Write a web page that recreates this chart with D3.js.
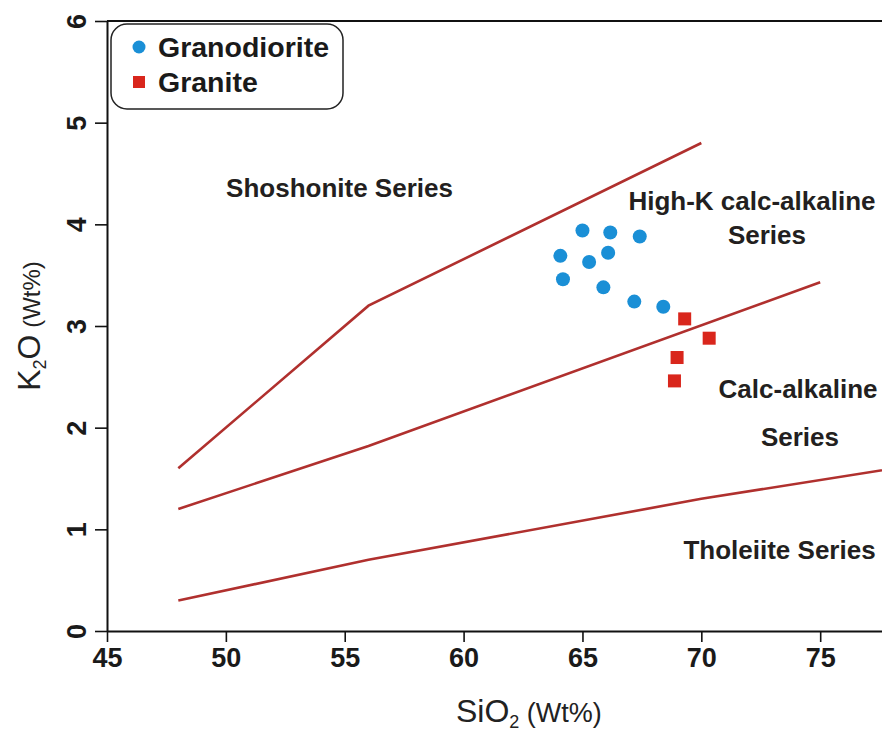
<!DOCTYPE html>
<html><head><meta charset="utf-8">
<script src="https://cdn.jsdelivr.net/npm/d3@7"></script>
<style>body{margin:0;background:#fff}svg{display:block}</style>
</head><body>
<svg id="c" width="882" height="733"></svg>
<script>
// Data
const granodiorite = [
  [65.0,3.94],[66.17,3.92],[67.41,3.88],[64.07,3.69],[66.08,3.72],
  [65.28,3.63],[64.18,3.46],[65.88,3.38],[67.18,3.24],[68.40,3.19]
];
const granite = [[69.30,3.07],[70.33,2.88],[68.98,2.69],[68.87,2.46]];
const lineShoshonite = [[48,1.6],[56,3.2],[70,4.8]];
const lineHighK = [[48,1.2],[56,1.82],[75,3.43]];
const lineTholeiite = [[48,0.3],[56,0.7],[70,1.3],[80,1.67]];
const xTicks = [45,50,55,60,65,70,75];
const yTicks = [0,1,2,3,4,5,6];
const seriesLabels = [
  {text:"Shoshonite Series", x:54.78, y:4.27},
  {text:"High-K calc-alkaline", x:72.13, y:4.14},
  {text:"Series", x:72.76, y:3.81},
  {text:"Calc-alkaline", x:74.07, y:2.29},
  {text:"Series", x:74.15, y:1.82},
  {text:"Tholeiite Series", x:73.29, y:0.71}
];
const legendItems = [{name:"Granodiorite", shape:"circle"},{name:"Granite", shape:"square"}];

const svg = d3.select("#c");
const L=107, R=882, T=21, B=631;
const x = d3.scaleLinear().domain([45,77.6]).range([L,R]);
const y = d3.scaleLinear().domain([0,6]).range([B,T]);

const colLine="#b0302e", colBlue="#1a8fd6", colRed="#d9261c";

svg.append("defs").append("clipPath").attr("id","clip")
  .append("rect").attr("x",L).attr("y",T).attr("width",R-L).attr("height",B-T);

svg.append("line").attr("x1",L).attr("x2",R).attr("y1",T).attr("y2",T).attr("stroke","#111").attr("stroke-width",2);

const xAxis = svg.append("g").attr("transform",`translate(0,${B})`)
  .call(d3.axisBottom(x).tickValues(xTicks).tickSize(11).tickSizeOuter(0).tickPadding(6));
const yAxis = svg.append("g").attr("transform",`translate(${L},0)`)
  .call(d3.axisLeft(y).tickValues(yTicks).tickSize(12).tickSizeOuter(0).tickFormat(d3.format("d")));
[xAxis,yAxis].forEach(g=>{
  g.select(".domain").attr("stroke","#111").attr("stroke-width",2);
  g.selectAll(".tick line").attr("stroke","#111").attr("stroke-width",1.6);
  g.selectAll(".tick text").attr("fill","#1a1a1a")
   .style("font-family","'Liberation Sans Narrow','Liberation Sans',Arial,sans-serif")
   .style("font-weight","bold").style("font-size","27px");
});
xAxis.selectAll(".tick text").attr("dy","0.71em");
yAxis.selectAll(".tick text").attr("x",null).attr("dy",null)
  .attr("text-anchor","middle")
  .attr("transform","translate(-31,0) rotate(-90)")
  .attr("y",0).attr("dy","0.36em");

const lg = d3.line().x(d=>x(d[0])).y(d=>y(d[1]));
const gl = svg.append("g").attr("clip-path","url(#clip)");
[lineShoshonite,lineHighK,lineTholeiite].forEach(ln=>{
  gl.append("path").attr("d",lg(ln)).attr("fill","none").attr("stroke",colLine).attr("stroke-width",2.6);
});

const tg = svg.append("g").style("font-family","'Liberation Sans',Arial,sans-serif")
  .style("font-weight","bold").style("font-size","26px").attr("fill","#231f20");
seriesLabels.forEach(s=>{
  tg.append("text").attr("x",x(s.x)).attr("y",y(s.y)).attr("text-anchor","middle").text(s.text);
});

svg.append("g").selectAll("circle").data(granodiorite).join("circle")
  .attr("cx",d=>x(d[0])).attr("cy",d=>y(d[1])).attr("r",7).attr("fill",colBlue);
const sq=13;
svg.append("g").selectAll("rect").data(granite).join("rect")
  .attr("x",d=>x(d[0])-sq/2).attr("y",d=>y(d[1])-sq/2).attr("width",sq).attr("height",sq).attr("fill",colRed);

const leg = svg.append("g");
leg.append("rect").attr("x",111).attr("y",24).attr("width",232).attr("height",85).attr("rx",16)
  .attr("fill","#fff").attr("stroke","#222").attr("stroke-width",1.5);
legendItems.forEach((it,i)=>{
  const cy = 47 + i*35;
  if(it.shape==="circle") leg.append("circle").attr("cx",139).attr("cy",cy).attr("r",6.5).attr("fill",colBlue);
  else leg.append("rect").attr("x",133).attr("y",cy-6).attr("width",12).attr("height",12).attr("fill",colRed);
  leg.append("text").attr("x",158).attr("y",cy).attr("dy","0.36em")
    .style("font-family","'Liberation Sans',Arial,sans-serif").style("font-weight","bold").style("font-size","28.5px")
    .attr("fill","#1a1a1a").text(it.name);
});

const xt = svg.append("text").attr("x",456).attr("y",722).attr("text-anchor","start")
  .style("font-family","'Liberation Sans',Arial,sans-serif").attr("fill","#222");
xt.append("tspan").style("font-size","32px").text("SiO");
xt.append("tspan").style("font-size","18px").attr("dy",6).text("2");
xt.append("tspan").style("font-size","27px").attr("dy",-6).style("font-family","'Liberation Sans Narrow',Arial,sans-serif").text(" (Wt%)");

const yt = svg.append("text").attr("transform","translate(40,326) rotate(-90)").attr("text-anchor","middle")
  .style("font-family","'Liberation Sans',Arial,sans-serif").attr("fill","#222");
yt.append("tspan").style("font-size","32px").text("K");
yt.append("tspan").style("font-size","18px").attr("dy",6).text("2");
yt.append("tspan").style("font-size","32px").attr("dy",-6).text("O");
yt.append("tspan").style("font-size","24px").style("font-family","'Liberation Sans Narrow',Arial,sans-serif").text(" (Wt%)");
</script>
</body></html>
